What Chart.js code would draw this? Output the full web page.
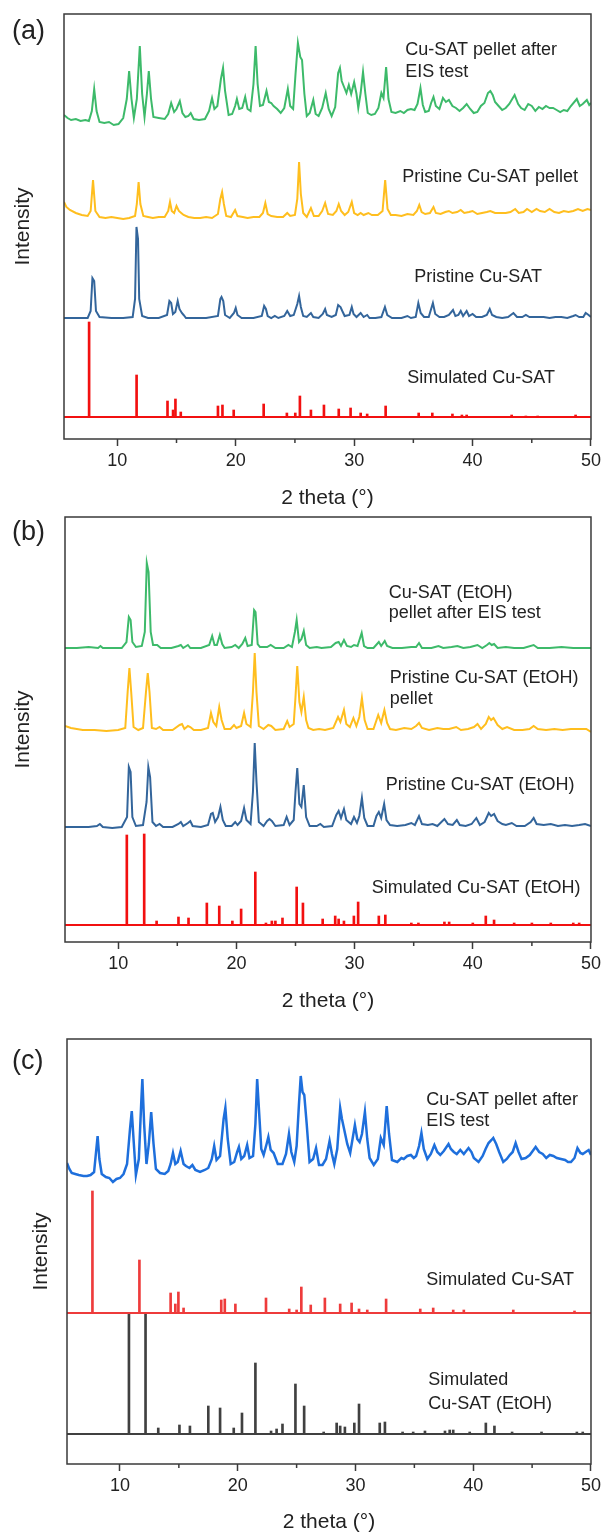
<!DOCTYPE html>
<html><head><meta charset="utf-8">
<script src="https://cdn.jsdelivr.net/npm/chart.js@4.4.1/dist/chart.umd.min.js"></script>
<style>
html,body{margin:0;padding:0;background:#fff;overflow:hidden;width:605px;height:1535px;}
canvas{position:absolute;left:0;}
</style></head><body>
<canvas id="ca" width="605" height="520" style="top:0px"></canvas>
<canvas id="cb" width="605" height="520" style="top:503px"></canvas>
<canvas id="cc" width="605" height="510" style="top:1025px"></canvas>
<script>
// ---------- axis ----------
const xMin = 5.5, xMax = 50, yMax = 425;
const xMajor = [10, 20, 30, 40, 50];
const xMinor = [15, 25, 35, 45];

// ---------- panel (a) ----------
const aGreen = [[5.5,324],[5.8,321],[6.1,319],[6.5,320],[6.9,318],[7.3,319],[7.6,318],[7.85,328],[8.05,350],[8.25,328],[8.5,317],[8.9,316],[9.3,317],[9.7,314],[10.1,315],[10.5,321],[10.8,340],[11.0,368],[11.2,340],[11.4,321],[11.65,340],[11.9,393],[12.1,345],[12.3,322],[12.5,345],[12.66,368],[12.85,340],[13.05,322],[13.5,321],[14.0,320],[14.3,325],[14.55,336],[14.8,327],[15.0,330],[15.28,338],[15.5,326],[15.75,322],[16.0,323],[16.2,326],[16.45,320],[16.9,319],[17.4,320],[17.75,328],[18.0,341],[18.2,330],[18.45,333],[18.75,360],[18.93,371],[19.1,348],[19.4,324],[19.7,325],[19.95,333],[20.1,340],[20.3,330],[20.55,331],[20.8,342],[21.0,330],[21.25,328],[21.5,355],[21.68,393],[21.85,355],[22.05,333],[22.3,334],[22.6,348],[22.8,337],[23.0,336],[23.2,333],[23.5,330],[23.8,326],[24.1,331],[24.4,350],[24.6,333],[24.85,330],[25.05,365],[25.25,396],[25.45,382],[25.6,379],[25.8,345],[26.0,323],[26.25,326],[26.55,339],[26.75,325],[27.0,323],[27.3,331],[27.6,346],[27.85,330],[28.1,323],[28.4,332],[28.65,366],[28.8,371],[28.95,358],[29.15,352],[29.35,346],[29.55,354],[29.75,345],[30.0,357],[30.2,345],[30.35,331],[30.55,346],[30.75,367],[30.95,345],[31.15,326],[31.45,324],[31.75,325],[32.05,331],[32.3,346],[32.48,341],[32.7,372],[32.9,340],[33.15,327],[33.5,326],[33.9,328],[34.2,326],[34.5,329],[34.8,330],[35.1,329],[35.35,335],[35.6,351],[35.8,334],[36.0,327],[36.3,328],[36.5,336],[36.7,342],[36.9,333],[37.2,330],[37.5,341],[37.75,337],[38.0,339],[38.3,333],[38.6,331],[38.9,328],[39.2,331],[39.5,335],[39.8,330],[40.1,326],[40.4,327],[40.7,333],[41.0,336],[41.3,346],[41.5,348],[41.7,344],[41.9,337],[42.2,333],[42.5,329],[42.8,331],[43.1,335],[43.55,344],[43.85,335],[44.1,331],[44.4,329],[44.7,335],[45.0,333],[45.3,328],[45.6,332],[45.9,330],[46.2,333],[46.5,331],[46.8,331],[47.1,329],[47.4,327],[47.7,329],[48.0,328],[48.3,333],[48.8,340],[49.05,333],[49.3,335],[49.65,339],[49.85,334],[50,336]];
const aYellow = [[5.5,237],[5.7,232],[6.0,229],[6.5,226],[7.0,224],[7.5,223],[7.75,228],[7.95,259],[8.15,228],[8.5,222],[9.0,221],[9.5,222],[10.0,221],[10.5,220],[11.0,221],[11.5,223],[11.65,235],[11.8,257],[11.95,235],[12.2,223],[12.6,222],[13.0,221],[13.5,222],[14.0,222],[14.3,228],[14.45,237],[14.6,228],[14.8,226],[15.0,233],[15.2,228],[15.4,226],[15.6,224],[16.0,222],[16.5,221],[17.0,221],[17.5,222],[18.0,221],[18.5,225],[18.7,240],[18.85,247],[19.0,235],[19.2,223],[19.6,222],[19.95,229],[20.15,223],[20.6,222],[21.0,221],[21.5,222],[22.0,222],[22.3,226],[22.5,236],[22.7,225],[23.0,223],[23.5,222],[24.0,222],[24.35,226],[24.6,223],[25.0,224],[25.2,240],[25.35,277],[25.5,245],[25.7,226],[26.0,222],[26.35,231],[26.6,223],[27.0,223],[27.3,228],[27.55,236],[27.8,225],[28.2,224],[28.5,228],[28.7,235],[28.9,228],[29.2,224],[29.5,227],[29.8,237],[30.0,226],[30.3,224],[30.55,226],[30.8,224],[31.2,226],[31.5,224],[32.0,224],[32.4,228],[32.62,259],[32.82,230],[33.1,224],[33.5,224],[34.0,223],[34.5,225],[35.0,224],[35.3,228],[35.5,234],[35.7,227],[36.0,225],[36.4,226],[36.7,232],[36.9,226],[37.3,225],[37.7,227],[38.0,228],[38.3,226],[38.7,227],[39.0,229],[39.3,226],[39.7,227],[40.0,228],[40.4,225],[40.8,226],[41.2,227],[41.5,228],[41.9,226],[42.3,226],[42.8,226],[43.2,227],[43.6,230],[43.9,226],[44.3,227],[44.6,230],[45.0,227],[45.4,230],[45.7,228],[46.1,227],[46.5,230],[46.9,227],[47.3,226],[47.7,228],[48.1,227],[48.5,228],[48.9,230],[49.3,228],[49.7,230],[50,229]];
const aBlue = [[5.5,121],[6.5,121],[7.5,121],[7.75,128],[7.9,161],[8.05,158],[8.2,128],[8.5,122],[9.5,121],[10.5,121],[11.3,122],[11.5,140],[11.62,212],[11.75,200],[11.85,140],[12.1,123],[12.6,121],[13.5,121],[14.2,124],[14.4,138],[14.55,136],[14.7,125],[14.9,127],[15.1,138],[15.25,130],[15.45,126],[15.6,124],[15.8,121],[16.5,121],[17.5,121],[18.5,123],[18.7,140],[18.8,142],[18.95,138],[19.1,124],[19.5,121],[19.85,126],[20.0,131],[20.15,124],[20.5,121],[21.5,121],[22.2,123],[22.4,133],[22.55,130],[22.7,123],[23.0,121],[23.3,123],[23.6,121],[24.1,123],[24.35,128],[24.6,123],[24.9,124],[25.2,135],[25.35,143],[25.5,132],[25.7,123],[26.0,122],[26.35,126],[26.55,122],[27.0,121],[27.35,125],[27.55,130],[27.7,124],[28.1,122],[28.45,124],[28.65,134],[28.85,132],[29.0,128],[29.2,123],[29.6,124],[29.8,132],[29.95,125],[30.2,122],[30.55,126],[30.8,122],[31.1,124],[31.3,121],[31.8,121],[32.3,122],[32.6,132],[32.8,124],[33.2,121],[34.0,121],[34.5,123],[34.8,121],[35.2,122],[35.42,136],[35.62,126],[35.9,122],[36.3,122],[36.65,136],[36.85,125],[37.2,122],[37.6,122],[38.0,124],[38.35,129],[38.55,123],[38.8,124],[39.0,128],[39.2,123],[39.5,128],[39.7,123],[40.0,125],[40.3,122],[40.8,122],[41.2,124],[41.45,130],[41.65,124],[42.0,122],[42.5,121],[43.0,122],[43.45,126],[43.75,122],[44.2,122],[44.5,124],[44.8,122],[45.5,122],[46.0,122],[46.5,121],[47.0,122],[47.5,122],[48.0,121],[48.5,123],[48.7,124],[49.0,122],[49.35,122],[49.55,126],[49.8,124],[50,122]];
const simA_base = 22;
const simA_pos = [7.62, 11.63, 14.24, 14.71, 14.91, 15.36, 18.5, 18.88, 19.83, 22.36, 24.32, 25.03, 25.42, 26.35, 27.45, 28.7, 29.7, 30.55, 31.1, 32.66, 35.45, 36.6, 38.3, 39.1, 39.5, 43.3, 44.5, 45.5, 48.7];
const simA_int = [117, 64, 38, 29, 40, 27, 33, 34, 29, 35, 26, 26, 43, 29, 34, 30, 31, 26, 25, 33, 26, 26, 25, 24, 24, 24, 23, 23, 24];

// ---------- panel (b) ----------
const bGreen = [[5.5,294],[6.5,294],[7.5,295],[8.3,294],[8.5,296],[8.7,294],[9.5,294],[10.3,294],[10.7,300],[10.9,325],[11.05,322],[11.2,300],[11.5,295],[12.0,296],[12.25,310],[12.42,379],[12.57,370],[12.75,310],[12.95,297],[13.3,297],[13.6,294],[14.5,294],[15.1,296],[15.3,297],[15.5,294],[15.9,297],[16.1,294],[17.0,294],[17.7,297],[17.95,306],[18.15,297],[18.35,297],[18.6,307],[18.8,298],[19.0,294],[19.6,295],[19.9,297],[20.2,294],[20.5,298],[20.75,304],[20.95,296],[21.3,297],[21.5,332],[21.62,330],[21.8,298],[22.0,295],[22.6,295],[22.9,297],[23.3,294],[24.0,294],[24.4,297],[24.7,295],[24.95,310],[25.1,322],[25.3,300],[25.5,303],[25.7,311],[25.9,297],[26.2,294],[26.8,295],[27.2,294],[28.0,295],[28.4,299],[28.65,300],[28.85,296],[29.1,302],[29.35,296],[29.7,295],[29.95,297],[30.25,296],[30.6,309],[30.8,296],[31.1,294],[31.6,294],[32.05,300],[32.25,296],[32.55,301],[32.75,296],[33.2,294],[34.0,294],[34.8,295],[35.2,295],[35.45,299],[35.7,294],[36.5,294],[37.1,296],[37.5,294],[38.2,295],[38.7,296],[39.2,294],[39.8,295],[40.4,297],[40.8,294],[41.2,297],[41.4,299],[41.6,297],[41.8,298],[42.1,294],[42.8,295],[43.5,294],[44.3,294],[45.15,297],[45.5,294],[46.5,294],[47.5,295],[48.5,294],[49.5,294],[50,294]];
const bYellow = [[5.5,216],[6.0,214],[6.5,213],[7.0,212],[8.0,212],[9.0,211],[10.0,212],[10.6,214],[10.8,250],[10.95,274],[11.1,250],[11.3,215],[11.7,212],[12.1,214],[12.35,250],[12.5,269],[12.65,250],[12.85,214],[13.2,213],[13.5,215],[13.8,212],[14.6,212],[15.2,217],[15.4,218],[15.6,213],[15.9,216],[16.1,215],[16.4,212],[17.0,212],[17.6,214],[17.85,229],[18.05,220],[18.3,216],[18.55,235],[18.75,222],[19.0,213],[19.5,213],[19.8,217],[20.0,214],[20.4,216],[20.65,229],[20.85,218],[21.2,215],[21.4,250],[21.55,289],[21.7,250],[21.9,216],[22.3,213],[22.7,217],[22.95,216],[23.3,212],[24.0,213],[24.3,221],[24.5,215],[24.85,218],[25.0,245],[25.15,276],[25.33,240],[25.5,230],[25.7,245],[25.9,222],[26.1,214],[26.5,212],[27.0,213],[27.5,212],[28.2,214],[28.6,225],[28.8,220],[29.1,232],[29.3,218],[29.6,215],[29.9,224],[30.15,216],[30.4,225],[30.62,244],[30.85,222],[31.1,213],[31.6,213],[32.0,227],[32.25,219],[32.52,232],[32.75,219],[33.0,213],[33.5,212],[34.2,214],[34.8,213],[35.2,216],[35.45,219],[35.7,214],[36.3,212],[37.0,214],[37.5,213],[38.0,213],[38.6,215],[39.0,212],[39.6,213],[40.1,215],[40.4,218],[40.7,213],[41.1,218],[41.35,225],[41.55,222],[41.75,224],[42.1,217],[42.5,213],[42.9,215],[43.5,212],[44.2,212],[44.8,213],[45.15,216],[45.5,213],[46.2,212],[46.9,213],[47.6,212],[48.3,213],[49.0,213],[49.6,213],[50,210]];
const bBlue = [[5.5,115],[6.5,115],[7.5,115],[8.2,116],[8.45,118],[8.7,115],[9.5,114],[10.3,115],[10.75,125],[10.9,175],[11.05,170],[11.2,125],[11.5,116],[12.1,117],[12.4,140],[12.55,175],[12.7,165],[12.9,120],[13.2,116],[13.5,118],[13.8,115],[14.6,115],[15.1,118],[15.3,120],[15.5,116],[15.9,119],[16.1,121],[16.3,116],[17.0,115],[17.6,117],[17.85,128],[18.0,129],[18.2,120],[18.45,125],[18.65,135],[18.85,122],[19.1,116],[19.6,116],[19.9,120],[20.1,117],[20.4,121],[20.65,134],[20.85,122],[21.2,118],[21.4,150],[21.55,199],[21.7,160],[21.9,120],[22.3,116],[22.6,121],[22.8,123],[23.0,121],[23.3,116],[24.0,117],[24.25,125],[24.5,117],[24.85,122],[25.0,150],[25.15,174],[25.33,138],[25.5,135],[25.7,157],[25.9,125],[26.2,116],[26.8,116],[27.1,118],[27.4,115],[28.1,116],[28.45,127],[28.65,131],[28.85,124],[29.1,133],[29.3,122],[29.7,118],[29.95,125],[30.2,119],[30.4,126],[30.62,144],[30.82,124],[31.1,116],[31.6,116],[31.85,126],[32.05,130],[32.25,124],[32.5,138],[32.7,122],[33.0,117],[33.6,116],[34.3,117],[34.8,119],[35.1,117],[35.45,126],[35.7,118],[36.2,117],[36.6,118],[37.0,116],[37.6,123],[37.9,118],[38.3,117],[38.65,122],[38.9,117],[39.4,116],[39.9,118],[40.3,124],[40.6,117],[41.0,120],[41.35,129],[41.55,126],[41.8,128],[42.1,121],[42.5,118],[42.8,117],[43.3,119],[43.7,116],[44.4,116],[44.9,120],[45.15,124],[45.4,118],[46.0,117],[46.6,118],[47.2,116],[47.8,117],[48.4,116],[49.0,117],[49.5,118],[50,116]];
const simB_base = 17;
const simB_pos = [10.73, 12.2, 13.25, 15.1, 15.95, 17.5, 18.55, 19.66, 20.4, 21.6, 22.5, 23.0, 23.3, 23.9, 25.1, 25.63, 27.3, 28.36, 28.65, 29.1, 29.94, 30.3, 32.05, 32.6, 34.8, 35.4, 37.6, 38.0, 40.0, 41.1, 41.8, 43.5, 45.0, 46.6, 48.5, 49.0];
const simB_int = [107, 108, 21, 25, 24, 39, 36, 21, 33, 70, 19, 21, 21, 24, 55, 39, 23, 26, 23, 21, 26, 40, 26, 27, 19, 19, 20, 20, 19, 26, 22, 19, 19, 19, 19, 19];

// ---------- panel (c) ----------
const cBlue = [[5.5,301],[5.7,295],[5.9,291],[6.2,290],[6.5,289],[6.9,288],[7.2,288],[7.5,289],[7.8,292],[7.95,310],[8.1,328],[8.25,305],[8.45,290],[8.8,287],[9.1,286],[9.4,282],[9.7,285],[10.0,286],[10.3,290],[10.6,300],[10.85,335],[11.0,353],[11.15,325],[11.35,289],[11.6,305],[11.8,360],[11.9,385],[12.05,340],[12.25,300],[12.45,320],[12.65,352],[12.85,320],[13.05,295],[13.4,291],[13.8,290],[14.1,293],[14.3,300],[14.5,311],[14.7,300],[14.9,302],[15.15,313],[15.4,300],[15.6,298],[15.9,296],[16.15,299],[16.4,294],[16.8,292],[17.2,294],[17.5,296],[17.8,305],[18.0,318],[18.2,304],[18.5,308],[18.8,345],[18.95,356],[19.15,325],[19.4,300],[19.7,302],[19.95,312],[20.1,317],[20.3,305],[20.55,308],[20.8,319],[21.0,306],[21.3,308],[21.5,340],[21.65,385],[21.85,345],[22.0,315],[22.2,309],[22.45,320],[22.6,327],[22.8,314],[23.05,311],[23.4,300],[23.8,300],[24.1,310],[24.35,330],[24.55,312],[24.8,302],[25.0,318],[25.2,360],[25.35,388],[25.5,372],[25.65,369],[25.85,341],[26.1,302],[26.4,305],[26.65,316],[26.9,299],[27.2,299],[27.5,305],[27.8,323],[28.0,310],[28.2,300],[28.45,315],[28.7,356],[28.85,345],[29.05,334],[29.3,320],[29.55,311],[29.75,325],[29.95,339],[30.15,325],[30.35,322],[30.55,330],[30.8,352],[31.0,325],[31.2,306],[31.55,299],[31.9,305],[32.15,326],[32.4,319],[32.65,358],[32.85,330],[33.1,304],[33.55,302],[33.9,306],[34.1,305],[34.4,308],[34.7,309],[34.95,306],[35.15,308],[35.4,318],[35.6,331],[35.8,315],[36.1,305],[36.4,310],[36.7,319],[36.95,312],[37.2,309],[37.5,313],[37.9,320],[38.1,315],[38.35,312],[38.6,310],[38.9,314],[39.2,310],[39.6,316],[39.85,312],[40.05,306],[40.45,302],[40.8,308],[41.05,315],[41.3,321],[41.55,324],[41.7,326],[41.95,320],[42.2,312],[42.55,302],[42.85,305],[43.1,309],[43.35,312],[43.6,321],[43.85,312],[44.1,305],[44.45,306],[44.8,309],[45.05,313],[45.3,317],[45.6,312],[45.9,310],[46.2,306],[46.5,309],[46.8,308],[47.1,306],[47.45,305],[47.8,304],[48.05,302],[48.3,302],[48.6,306],[48.85,316],[49.1,311],[49.3,310],[49.55,312],[49.8,314],[50,309]];
const simC1_base = 151;
const simC1_pos = [7.66, 11.65, 14.3, 14.7, 14.96, 15.4, 18.6, 18.9, 19.8, 22.4, 24.37, 25.0, 25.4, 26.2, 27.4, 28.7, 29.67, 30.3, 31.0, 32.6, 35.5, 36.6, 38.3, 39.2, 43.4, 48.6];
const simC1_int = [273, 204, 171, 160, 172, 156, 164, 165, 160, 166, 155, 154, 177, 159, 166, 160, 161, 155, 154, 165, 155, 156, 154, 154, 154, 153];
const simC2_base = 30;
const simC2_pos = [10.76, 12.17, 13.25, 15.05, 15.94, 17.5, 18.5, 19.66, 20.36, 21.5, 22.83, 23.3, 23.8, 24.9, 25.64, 27.3, 28.4, 28.7, 29.1, 29.9, 30.3, 32.06, 32.5, 34.0, 34.9, 35.9, 37.6, 38.0, 38.3, 39.7, 41.07, 41.8, 43.3, 45.8, 48.8, 49.3];
const simC2_int = [151, 151, 36, 39, 38, 58, 56, 36, 51, 101, 33, 35, 40, 80, 58, 32, 41, 38, 37, 41, 60, 41, 42, 32, 32, 33, 33, 34, 34, 32, 41, 38, 32, 32, 32, 32];

// ---------- helpers ----------
const FONT = '"Liberation Sans", Arial, sans-serif';
Chart.defaults.font.family = FONT;
const toXY = arr => arr.map(p => ({x: p[0], y: p[1]}));
const lineDS = (arr, color, w) => ({type: 'line', data: toXY(arr), borderColor: color, borderWidth: w, pointRadius: 0, tension: 0, fill: false});
const stickDS = (pos, ints, base, color, w) => ({type: 'bar', data: pos.map((p, i) => ({x: p, y: [base, ints[i]]})), backgroundColor: color, borderWidth: 0, barThickness: w, grouped: false});
const baseDS = (base, color, w) => ({type: 'line', data: [{x: xMin, y: base}, {x: xMax, y: base}], borderColor: color, borderWidth: w, pointRadius: 0});

const deco = {
  id: 'deco',
  afterDraw(chart, args, opts) {
    const {ctx, chartArea: a, scales: {x, y}} = chart;
    ctx.save();
    ctx.strokeStyle = '#3a3a3a'; ctx.lineWidth = 1.5;
    ctx.strokeRect(a.left, a.top, a.right - a.left, a.bottom - a.top);
    xMinor.forEach(v => {
      const px = x.getPixelForValue(v);
      ctx.beginPath(); ctx.moveTo(px, a.bottom); ctx.lineTo(px, a.bottom + 4); ctx.stroke();
    });
    ctx.fillStyle = '#222'; ctx.textBaseline = 'middle'; ctx.textAlign = 'left';
    ctx.font = '18px ' + FONT;
    (opts.notes || []).forEach(n => ctx.fillText(n.text, x.getPixelForValue(n.x), y.getPixelForValue(n.y)));
    ctx.font = '27px ' + FONT;
    ctx.fillText(opts.label, 12, opts.ly);
    ctx.restore();
  }
};

function makeChart(id, cfg) {
  return new Chart(document.getElementById(id), {
    type: 'line',
    data: {datasets: cfg.datasets},
    options: {
      responsive: false, animation: false, events: [],
      layout: {padding: {top: 14, right: cfg.right, left: 0, bottom: 0}},
      plugins: {legend: {display: false}, tooltip: {enabled: false},
        deco: {notes: cfg.notes, label: cfg.label, ly: cfg.ly}},
      scales: {
        x: {type: 'linear', min: xMin, max: xMax, offset: false,
          afterBuildTicks: s => { s.ticks = xMajor.map(v => ({value: v})); },
          afterFit: s => { s.height = cfg.xh; },
          ticks: {color: '#222', font: {size: 18}, padding: 4, maxRotation: 0, autoSkip: false},
          grid: {display: true, offset: false, drawOnChartArea: false, drawTicks: true, tickLength: 7, tickColor: '#3a3a3a', tickWidth: 1.5},
          border: {display: false},
          title: {display: true, text: '2 theta (°)', color: '#222', font: {size: 21}, padding: {top: 0, bottom: cfg.tpb}}},
        y: {type: 'linear', min: 0, max: yMax,
          afterFit: s => { s.width = cfg.yw; },
          ticks: {display: false}, grid: {display: false}, border: {display: false},
          title: {display: true, text: 'Intensity', color: '#222', font: {size: 21}, padding: {top: cfg.ytp, bottom: 0}}}
      }
    },
    plugins: [deco]
  });
}

const GREEN = '#3dba6a', YELLOW = '#ffbe1e', NAVY = '#33659b', RED = '#f21010';
const BLUE_C = '#1e6fdc', RED_C = '#ee3b3b', BLACK_C = '#404040';

makeChart('ca', {
  right: 13, yw: 64, xh: 81, tpb: 9, ytp: 11, label: '(a)', ly: 32,
  datasets: [lineDS(aGreen, GREEN, 2), lineDS(aYellow, YELLOW, 2), lineDS(aBlue, NAVY, 2),
    stickDS(simA_pos, simA_int, simA_base, RED, 2), baseDS(simA_base, RED, 2)],
  notes: [{text: 'Cu-SAT pellet after', x: 34.32, y: 389}, {text: 'EIS test', x: 34.32, y: 367},
    {text: 'Pristine Cu-SAT pellet', x: 34.07, y: 262}, {text: 'Pristine Cu-SAT', x: 35.08, y: 162},
    {text: 'Simulated Cu-SAT', x: 34.49, y: 61}]
});
makeChart('cb', {
  right: 12, yw: 65, xh: 81, tpb: 9, ytp: 11, label: '(b)', ly: 30,
  datasets: [lineDS(bGreen, GREEN, 2), lineDS(bYellow, YELLOW, 2), lineDS(bBlue, NAVY, 2),
    stickDS(simB_pos, simB_int, simB_base, RED, 2), baseDS(simB_base, RED, 2)],
  notes: [{text: 'Cu-SAT (EtOH)', x: 32.89, y: 349}, {text: 'pellet after EIS test', x: 32.89, y: 329},
    {text: 'Pristine Cu-SAT (EtOH)', x: 32.98, y: 264}, {text: 'pellet', x: 32.98, y: 243},
    {text: 'Pristine Cu-SAT (EtOH)', x: 32.64, y: 157}, {text: 'Simulated Cu-SAT (EtOH)', x: 31.46, y: 54}]
});
makeChart('cc', {
  right: 10, yw: 67, xh: 71, tpb: 0, ytp: 29, label: '(c)', ly: 37,
  datasets: [lineDS(cBlue, BLUE_C, 2.5),
    stickDS(simC1_pos, simC1_int, simC1_base, RED_C, 2), baseDS(simC1_base, RED_C, 1.8),
    stickDS(simC2_pos, simC2_int, simC2_base, BLACK_C, 2), baseDS(simC2_base, BLACK_C, 1.8)],
  notes: [{text: 'Cu-SAT pellet after', x: 36.01, y: 364}, {text: 'EIS test', x: 36.01, y: 343},
    {text: 'Simulated Cu-SAT', x: 36.01, y: 184},
    {text: 'Simulated', x: 36.18, y: 84}, {text: 'Cu-SAT (EtOH)', x: 36.18, y: 60}]
});
</script></body></html>
